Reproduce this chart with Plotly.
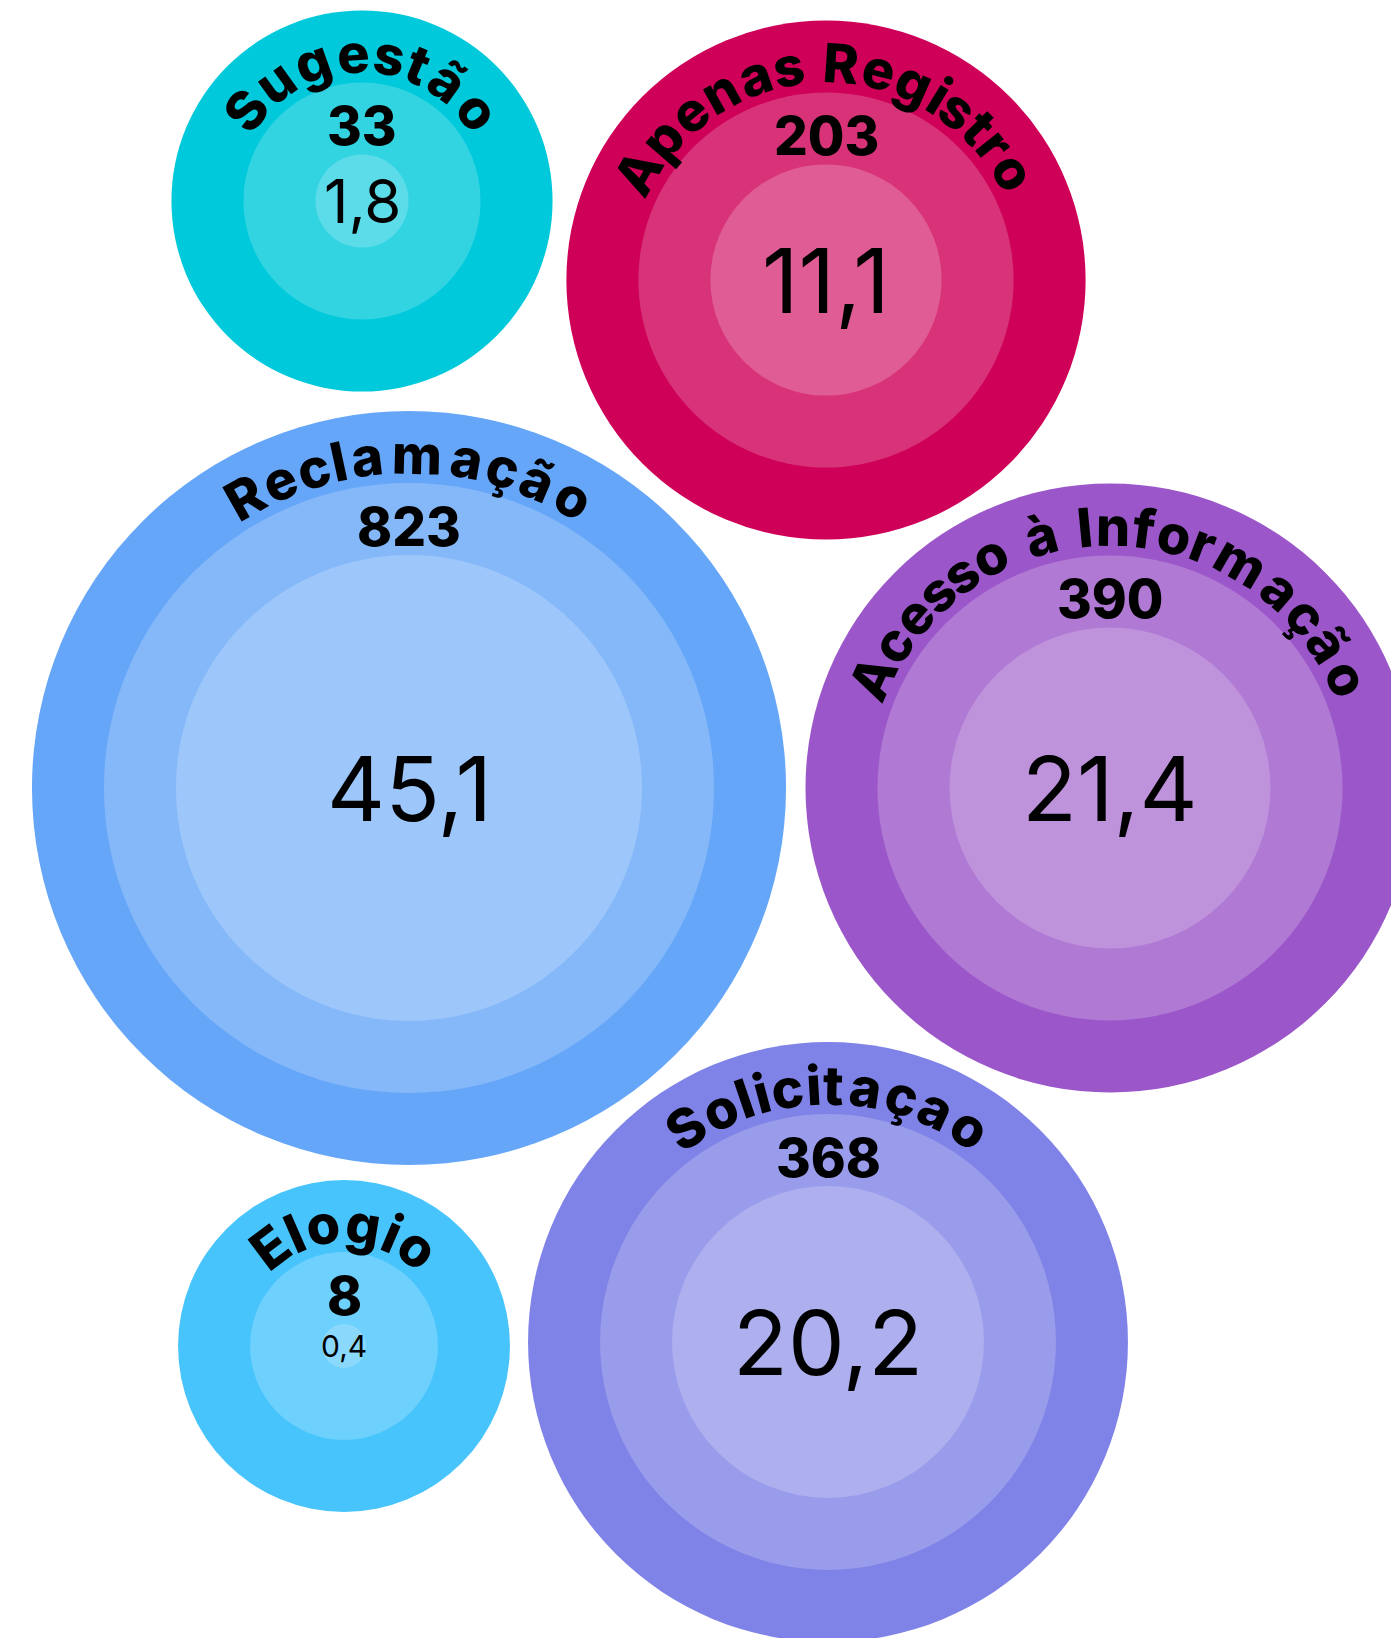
import math
import plotly.graph_objects as go

# ---------------- data ----------------
categories = ["Sugestão", "Apenas Registro", "Reclamação",
              "Acesso à Informação", "Solicitaçao", "Elogio"]
counts = [33, 203, 823, 390, 368, 8]
percents = [1.8, 11.1, 45.1, 21.4, 20.2, 0.4]

# ---------------- layout / style ----------------
W, H = 1391, 1638
base_colors = ["#00C9DB", "#CE0058", "#66A6F8", "#9B57C9", "#7F82E6", "#48C4FC"]
centers_x = [362, 826, 409, 1110, 828, 344]
centers_y = [201, 280, 788, 788, 1342, 1346]
label_half_span = [52, 60, 29.5, 65, 33.5, 37]   # degrees, first/last letter centre
pct_font_size = [60, 90, 90, 90, 90, 30]
K = 34.7          # px per sqrt(percent) for the inner disc
RING = 72         # width of each ring, px
NAME_SIZE = 54
COUNT_SIZE = 53
FONT = "Inter"


def blend_white(hex_color, t):
    h = hex_color.lstrip("#")
    r, g, b = (int(h[i:i + 2], 16) for i in (0, 2, 4))
    r, g, b = (round(c + (255 - c) * t) for c in (r, g, b))
    return f"rgb({r},{g},{b})"


inner_r = [K * math.sqrt(p) for p in percents]
mid_r = [r + RING for r in inner_r]
outer_r = [r + 2 * RING for r in inner_r]

fig = go.Figure()
for radii, tint in ((outer_r, 0.0), (mid_r, 0.2), (inner_r, 0.36)):
    fig.add_trace(go.Scatter(
        x=centers_x, y=centers_y, mode="markers",
        marker=dict(size=[2 * r for r in radii],
                    color=[blend_white(c, tint) for c in base_colors],
                    line=dict(width=0), opacity=1),
        hoverinfo="skip", showlegend=False))

# approximate relative glyph widths (em) for letter placement along the arc
WIDTH = {
    "A": .72, "R": .67, "S": .62, "I": .31, "E": .60,
    "a": .65, "ã": .65, "à": .65, "c": .57, "ç": .57, "e": .60, "g": .65,
    "i": .29, "l": .29, "m": .98, "n": .64, "o": .63, "p": .65, "r": .42,
    "s": .52, "t": .40, "u": .64, "f": .40, " ": .28,
}

annotations = []
for i, name in enumerate(categories):
    cx, cy, R = centers_x[i], centers_y[i], outer_r[i]
    r_text = R - 43
    widths = [WIDTH.get(ch, .6) for ch in name]
    pos = []
    acc = 0
    for w in widths:
        pos.append(acc + w / 2)
        acc += w
    first, last = pos[0], pos[-1]
    span = label_half_span[i]
    for ch, s in zip(name, pos):
        if ch == " ":
            continue
        theta = -span + 2 * span * (s - first) / (last - first)
        th = math.radians(theta)
        annotations.append(dict(
            x=cx + r_text * math.sin(th), y=cy - r_text * math.cos(th),
            xref="x", yref="y", text=ch, showarrow=False, textangle=theta,
            xanchor="center", yanchor="middle",
            font=dict(family=FONT, size=NAME_SIZE, color="black", weight=800)))
    # count
    annotations.append(dict(
        x=cx, y=cy - R + 116, xref="x", yref="y", text=str(counts[i]),
        showarrow=False, xanchor="center", yanchor="middle",
        font=dict(family=FONT, size=COUNT_SIZE, color="black", weight=800)))
    # percentage
    annotations.append(dict(
        x=cx, y=cy, xref="x", yref="y",
        text=f"{percents[i]:.1f}".replace(".", ","),
        showarrow=False, xanchor="center", yanchor="middle",
        font=dict(family=FONT, size=pct_font_size[i], color="black", weight=400)))

fig.update_layout(
    width=W, height=H, margin=dict(l=0, r=0, t=0, b=0),
    paper_bgcolor="white", plot_bgcolor="white",
    xaxis=dict(range=[0, W], visible=False, fixedrange=True),
    yaxis=dict(range=[H, 0], visible=False, fixedrange=True),
    annotations=annotations, showlegend=False,
)

fig.write_html("out.html")
